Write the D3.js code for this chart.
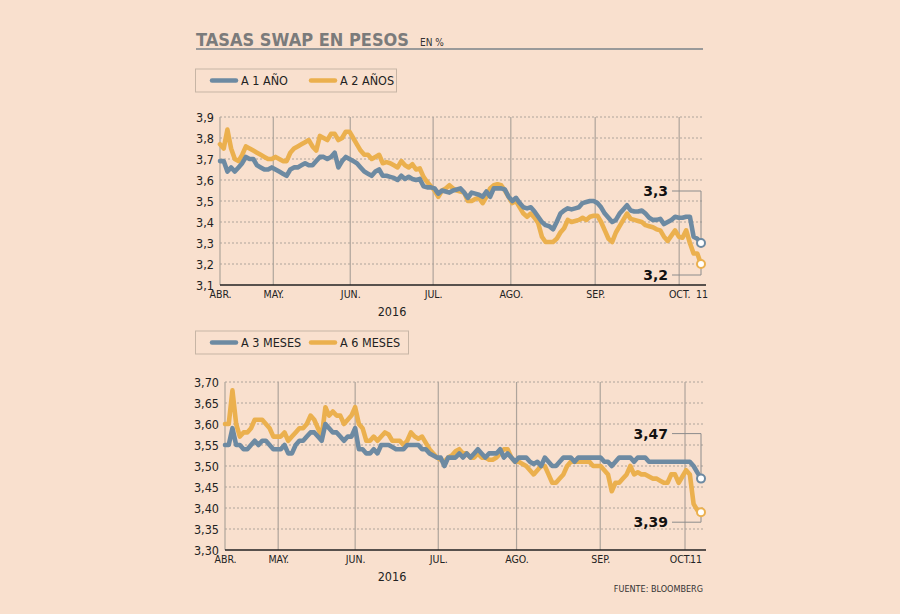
<!DOCTYPE html>
<html>
<head>
<meta charset="utf-8">
<script src="https://cdn.jsdelivr.net/npm/d3@7"></script>
<style>
  body { margin: 0; background: #f9e0ce; }
  svg { display: block; font-family: "DejaVu Sans Condensed", "DejaVu Sans", sans-serif; }
</style>
</head>
<body>
<svg id="chart" width="900" height="614"></svg>
<script>
// month labels and where each month starts (trading-day index)
const monthLabels = ["ABR.", "MAY.", "JUN.", "JUL.", "AGO.", "SEP.", "OCT."];
const topMonthIdx = [0, 14.4, 35.2, 57.6, 78.6, 101.4, 124.1];
const bottomMonthIdx = [0, 14.3, 35.0, 57.35, 78.4, 100.9, 123.7];

const topYTicks = [3.1, 3.2, 3.3, 3.4, 3.5, 3.6, 3.7, 3.8, 3.9];
const bottomYTicks = [3.30, 3.35, 3.40, 3.45, 3.50, 3.55, 3.60, 3.65, 3.70];

// A 1 AÑO
const unAnio = [
  3.69,3.69,3.64,3.66,3.64,3.66,3.68,3.71,3.70,3.70,
  3.67,3.66,3.65,3.65,3.66,3.65,3.64,3.63,3.62,3.65,
  3.66,3.66,3.67,3.68,3.67,3.67,3.69,3.71,3.71,3.70,
  3.71,3.73,3.66,3.69,3.71,3.70,3.69,3.68,3.66,3.64,
  3.63,3.62,3.64,3.65,
  3.62,3.62,3.615,3.61,3.60,3.62,3.605,3.615,3.605,3.60,
  3.605,3.57,3.565,3.565,3.56,3.535,3.55,3.545,3.54,3.55,
  3.555,3.56,3.54,3.515,3.54,3.535,3.53,3.52,3.545,3.52,
  3.56,3.56,3.56,3.555,3.52,3.50,3.515,3.49,3.47,3.465,
  3.47,3.45,3.425,
  3.40,3.385,3.38,3.365,3.40,3.44,3.455,3.465,3.46,3.465,
  3.47,3.49,3.495,3.50,3.50,3.49,3.47,3.44,3.42,3.40,
  3.41,3.44,3.46,3.48,3.455,3.45,3.45,3.455,3.44,3.42,
  3.41,3.41,3.415,3.39,3.40,3.41,3.425,3.42,3.42,3.425,
  3.425,3.33,3.32,3.30
];

// A 2 AÑOS
const dosAnios = [
  3.77,3.75,3.84,3.75,3.70,3.69,3.72,3.76,3.75,3.74,
  3.73,3.72,3.71,3.70,3.70,3.71,3.70,3.69,3.69,3.73,
  3.75,3.76,3.77,3.78,3.79,3.76,3.74,3.81,3.80,3.79,
  3.82,3.82,3.79,3.80,3.83,3.83,3.80,3.77,3.74,3.72,
  3.72,3.70,3.71,3.72,
  3.68,3.685,3.68,3.67,3.66,3.69,3.67,3.66,3.675,3.65,
  3.655,3.615,3.59,3.57,3.55,3.52,3.55,3.56,3.575,3.56,
  3.55,3.545,3.54,3.50,3.50,3.51,3.515,3.49,3.52,3.56,
  3.575,3.58,3.575,3.55,3.52,3.49,3.50,3.47,3.44,3.425,
  3.44,3.42,3.395,
  3.33,3.305,3.305,3.305,3.32,3.35,3.37,3.41,3.40,3.405,
  3.41,3.42,3.41,3.425,3.43,3.43,3.40,3.36,3.32,3.305,
  3.35,3.38,3.41,3.44,3.415,3.41,3.405,3.40,3.385,3.38,
  3.375,3.365,3.36,3.33,3.31,3.335,3.36,3.33,3.325,3.36,
  3.30,3.25,3.25,3.20
];

// A 3 MESES
const tresMeses = [
  3.55,3.55,3.59,3.55,3.55,3.54,3.54,3.55,3.56,3.55,
  3.56,3.56,3.55,3.54,3.54,3.54,3.55,3.53,3.53,3.55,
  3.56,3.56,3.57,3.58,3.58,3.57,3.56,3.60,3.59,3.58,
  3.58,3.57,3.56,3.57,3.57,3.59,3.54,3.54,3.53,3.53,
  3.54,3.53,3.55,3.55,
  3.55,3.545,3.54,3.54,3.54,3.55,3.55,3.55,3.55,3.54,
  3.54,3.53,3.525,3.52,3.52,3.50,3.52,3.52,3.52,3.53,
  3.52,3.53,3.52,3.53,3.54,3.53,3.52,3.53,3.53,3.53,
  3.54,3.52,3.53,3.52,3.51,3.52,3.52,3.52,3.51,3.505,
  3.51,3.50,3.52,
  3.51,3.50,3.50,3.51,3.52,3.52,3.52,3.51,3.52,3.52,
  3.52,3.52,3.52,3.52,3.52,3.51,3.51,3.50,3.51,3.52,
  3.52,3.52,3.52,3.51,3.52,3.52,3.52,3.51,3.51,3.51,
  3.51,3.51,3.51,3.51,3.51,3.51,3.51,3.51,3.51,3.50,
  3.485,3.47
];

// A 6 MESES
const seisMeses = [
  3.60,3.60,3.68,3.60,3.57,3.58,3.58,3.59,3.61,3.61,
  3.61,3.60,3.59,3.57,3.57,3.57,3.58,3.56,3.57,3.58,
  3.59,3.59,3.60,3.62,3.61,3.59,3.57,3.64,3.62,3.63,
  3.62,3.62,3.60,3.61,3.62,3.64,3.60,3.59,3.56,3.56,
  3.57,3.56,3.57,3.58,
  3.575,3.56,3.56,3.56,3.55,3.56,3.58,3.57,3.565,3.57,
  3.555,3.54,3.53,3.52,3.515,3.51,3.52,3.525,3.535,3.54,
  3.53,3.53,3.52,3.52,3.53,3.52,3.52,3.515,3.515,3.52,
  3.53,3.54,3.54,3.52,3.51,3.51,3.505,3.50,3.49,3.48,
  3.49,3.50,3.50,
  3.48,3.46,3.46,3.47,3.48,3.50,3.51,3.51,3.51,3.51,
  3.51,3.51,3.50,3.50,3.50,3.49,3.48,3.44,3.46,3.46,
  3.47,3.48,3.50,3.48,3.485,3.48,3.48,3.475,3.47,3.47,
  3.465,3.46,3.46,3.48,3.48,3.46,3.475,3.49,3.48,3.41,
  3.395,3.39
];

const BLUE = "#6d8aa2";
const ORANGE = "#ebb04e";
const GRID = "#aea49b";

const locale = d3.formatLocale({ decimal: ",", thousands: ".", grouping: [3], currency: ["$", ""] });

const svg = d3.select("#chart");

// title
svg.append("text")
  .attr("x", 196).attr("y", 46)
  .attr("font-family", "'DejaVu Sans', sans-serif")
  .attr("font-weight", "bold").attr("font-size", 17)
  .attr("fill", "#7b7b7b")
  .attr("textLength", 213).attr("lengthAdjust", "spacingAndGlyphs")
  .text("TASAS SWAP EN PESOS");
svg.append("text")
  .attr("x", 420).attr("y", 46)
  .attr("font-size", 10).attr("fill", "#333")
  .text("EN %");
svg.append("line")
  .attr("x1", 196).attr("x2", 703).attr("y1", 49).attr("y2", 49)
  .attr("stroke", "#9a9a9a").attr("stroke-width", 2);

function legend(y0, width, names) {
  const g = svg.append("g");
  g.append("rect")
    .attr("x", 195.5).attr("y", y0).attr("width", width).attr("height", 23)
    .attr("fill", "none").attr("stroke", "#c7b5a5").attr("stroke-width", 1);
  const items = [{ name: names[0], color: BLUE, x: 212 }, { name: names[1], color: ORANGE, x: 311 }];
  items.forEach(it => {
    g.append("line")
      .attr("x1", it.x).attr("x2", it.x + 24)
      .attr("y1", y0 + 11.5).attr("y2", y0 + 11.5)
      .attr("stroke", it.color).attr("stroke-width", 4.5).attr("stroke-linecap", "round");
    g.append("text")
      .attr("x", it.x + 29).attr("y", y0 + 16)
      .attr("font-size", 12.5).attr("fill", "#222")
      .text(it.name);
  });
}

legend(69, 201, ["A 1 AÑO", "A 2 AÑOS"]);
legend(331, 213, ["A 3 MESES", "A 6 MESES"]);

function panel(cfg) {
  const n = cfg.series[0].values.length;
  const x = d3.scaleLinear().domain([0, n - 1]).range([cfg.left, cfg.right]);
  const y = d3.scaleLinear().domain([cfg.yTicks[0], cfg.yTicks[cfg.yTicks.length - 1]]).range([cfg.bottom, cfg.top]);
  const fmt = locale.format(cfg.fmt);
  const g = svg.append("g");

  // dotted horizontal grid
  g.selectAll(".hgrid").data(cfg.yTicks.slice(1)).enter().append("line")
    .attr("x1", cfg.left).attr("x2", cfg.right + 3)
    .attr("y1", d => y(d)).attr("y2", d => y(d))
    .attr("stroke", GRID).attr("stroke-width", 1).attr("stroke-dasharray", "2,2");

  // month lines
  g.selectAll(".vgrid").data(cfg.monthIdx).enter().append("line")
    .attr("x1", d => x(d)).attr("x2", d => x(d))
    .attr("y1", y(cfg.yTicks[cfg.yTicks.length - 1])).attr("y2", cfg.bottom)
    .attr("stroke", GRID).attr("stroke-width", 1.2);

  // y labels
  g.append("g")
    .attr("transform", `translate(${cfg.left},0)`)
    .call(d3.axisLeft(y).tickValues(cfg.yTicks).tickSize(0).tickPadding(6).tickFormat(fmt))
    .call(a => a.select(".domain").remove())
    .selectAll("text")
    .attr("font-family", "'DejaVu Sans Condensed', 'DejaVu Sans', sans-serif")
    .attr("font-size", 12.5).attr("fill", "#222");

  // x axis
  const xa = g.append("g")
    .attr("transform", `translate(0,${cfg.bottom})`)
    .call(d3.axisBottom(x).tickValues(cfg.monthIdx).tickSize(0).tickSizeOuter(0).tickPadding(6)
      .tickFormat((d, i) => monthLabels[i]))
    .call(a => a.select(".domain").attr("stroke", "#222").attr("stroke-width", 1.5)
      .attr("d", `M${cfg.left},0H${cfg.right + 5}`));
  xa.selectAll("text")
    .attr("font-family", "'DejaVu Sans Condensed', 'DejaVu Sans', sans-serif")
    .attr("font-size", 10.5).attr("fill", "#222")
    .attr("dx", (d, i) => i === monthLabels.length - 1 ? cfg.octDx : 0);

  g.append("text")
    .attr("x", x(n - 1) + cfg.elevenDx).attr("y", cfg.bottom + 6).attr("dy", "0.71em")
    .attr("text-anchor", "middle")
    .attr("font-size", 10.5).attr("fill", "#222")
    .text("11");

  g.append("text")
    .attr("x", 392).attr("y", cfg.bottom + 31)
    .attr("text-anchor", "middle")
    .attr("font-size", 12.5).attr("fill", "#222")
    .text("2016");

  const line = d3.line().x((d, i) => x(i)).y(d => y(d));

  // orange first, blue on top
  cfg.series.slice().reverse().forEach(s => {
    g.append("path")
      .datum(s.values)
      .attr("d", line)
      .attr("fill", "none").attr("stroke", s.color)
      .attr("stroke-width", 4.6)
      .attr("stroke-linejoin", "round").attr("stroke-linecap", "round");
  });

  // end labels with leader lines
  cfg.series.forEach(s => {
    const last = s.values[n - 1];
    const cx = x(n - 1), cy = y(last);
    const ly = cy + s.labelDy;
    const endY = s.labelDy < 0 ? cy - 4 : cy + 4;
    g.append("path")
      .attr("d", `M${cx - 29},${ly}H${cx}V${endY}`)
      .attr("fill", "none").attr("stroke", "#8c8c8c").attr("stroke-width", 1);
    g.append("text")
      .attr("x", cx - 33).attr("y", ly + 5)
      .attr("text-anchor", "end")
      .attr("font-family", "'DejaVu Sans', sans-serif")
      .attr("font-weight", "bold").attr("font-size", 14).attr("fill", "#111")
      .text(fmt(last));
    g.append("circle")
      .attr("cx", cx).attr("cy", cy).attr("r", 4)
      .attr("fill", "#fff").attr("stroke", s.color).attr("stroke-width", 2);
  });
}

panel({
  left: 220, right: 701, top: 117, bottom: 285,
  yTicks: topYTicks, fmt: ".1f", monthIdx: topMonthIdx, octDx: 0, elevenDx: 1,
  series: [
    { values: unAnio, color: BLUE, labelDy: -52 },
    { values: dosAnios, color: ORANGE, labelDy: 11 }
  ]
});

panel({
  left: 225, right: 701, top: 382, bottom: 550,
  yTicks: bottomYTicks, fmt: ".2f", monthIdx: bottomMonthIdx, octDx: -5, elevenDx: -5,
  series: [
    { values: tresMeses, color: BLUE, labelDy: -45 },
    { values: seisMeses, color: ORANGE, labelDy: 10 }
  ]
});

svg.append("text")
  .attr("x", 703).attr("y", 592)
  .attr("text-anchor", "end")
  .attr("font-size", 9).attr("fill", "#333")
  .text("FUENTE: BLOOMBERG");
</script>
</body>
</html>
